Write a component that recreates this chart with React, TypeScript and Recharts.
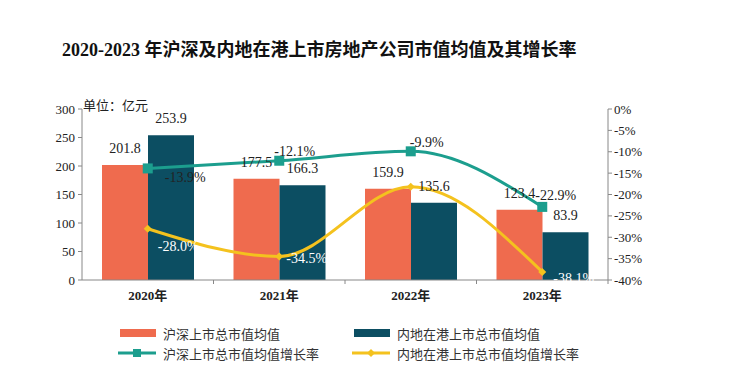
import React from 'react';
import { ComposedChart, Bar, Line, XAxis, YAxis, LabelList } from 'recharts';

const years = ['2020年', '2021年', '2022年', '2023年'];
const hsAvg = [201.8, 177.5, 159.9, 123.4];
const hkAvg = [253.9, 166.3, 135.6, 83.9];
const hsGrowth = [-13.9, -12.1, -9.9, -22.9];
const hkGrowth = [-28.0, -34.5, -18.2, -38.1];
const hkGrowthLabelled = [true, true, false, true];
const leftTicks = [0, 50, 100, 150, 200, 250, 300];
const rightTicks = [0, -5, -10, -15, -20, -25, -30, -35, -40];

const ORANGE = '#EF6B4E';
const NAVY = '#0C4E62';
const TEAL = '#1C9E8E';
const YELLOW = '#F4C21E';
const SERIF = "'Liberation Serif', 'Noto Sans CJK SC', serif";
const SANS = "'Noto Sans CJK SC', 'Noto Sans', sans-serif";

// label nudges for the two growth lines, per year
const hsLabelShift = [
    { dx: 17, dy: 9 },
    { dx: -5, dy: -9 },
    { dx: -1, dy: -9 },
    { dx: -7, dy: -11 },
];
const hkLabelShift = [
    { dx: 10, dy: 18 },
    { dx: 7, dy: 2 },
    { dx: 0, dy: 0 },
    { dx: 11, dy: 7 },
];

const data = years.map((year, i) => ({
    year,
    hsAvg: hsAvg[i],
    hkAvg: hkAvg[i],
    hsGrowth: hsGrowth[i],
    hkGrowth: hkGrowth[i],
}));

const pct = (v: number) => `${v.toFixed(1)}%`;

function GrowthLabel(props: any, shifts: { dx: number; dy: number }[], color: string, show?: boolean[]) {
    const { x, y, value, index } = props;
    if (show && !show[index]) return null;
    const s = shifts[index];
    return (
        <text
            x={x + s.dx}
            y={y + s.dy}
            fill={color}
            fontSize={14}
            fontFamily={SERIF}
            textAnchor="start"
            dominantBaseline="central"
        >
            {pct(value)}
        </text>
    );
}

function SquareDot(props: any) {
    const { cx, cy } = props;
    return <rect x={cx - 5} y={cy - 5} width={10} height={10} fill={TEAL} />;
}

function DiamondDot(props: any) {
    const { cx, cy } = props;
    return <path d={`M${cx},${cy - 4} L${cx + 4},${cy} L${cx},${cy + 4} L${cx - 4},${cy} Z`} fill={YELLOW} />;
}

// year label, plus a small tick mark at the right edge of the band
function YearTick(props: any) {
    const { x, y, payload } = props;
    const half = payload && payload.offset ? payload.offset : 66;
    const axisY = y - 11;
    return (
        <g>
            <line x1={x + half} y1={axisY} x2={x + half} y2={axisY + 4} stroke="#888" />
            <text
                x={x}
                y={y}
                dy="0.71em"
                textAnchor="middle"
                fill="#222"
                fontSize={13}
                fontFamily={SERIF}
                fontWeight="bold"
            >
                {payload.value}
            </text>
        </g>
    );
}

function LegendItem({ kind, color, text }: { kind: 'bar' | 'square' | 'diamond'; color: string; text: string }) {
    return (
        <div style={{ display: 'flex', alignItems: 'center', height: 20 }}>
            <svg width={40} height={12} style={{ marginRight: 5 }}>
                {kind === 'bar' ? (
                    <rect x={2} y={2} width={36} height={8} fill={color} />
                ) : (
                    <>
                        <line x1={0} y1={6} x2={38} y2={6} stroke={color} strokeWidth={3} />
                        {kind === 'square' ? (
                            <rect x={15} y={2} width={8} height={8} fill={color} />
                        ) : (
                            <path d="M19,2 L23,6 L19,10 L15,6 Z" fill={color} />
                        )}
                    </>
                )}
            </svg>
            <span style={{ fontFamily: SANS, fontSize: 13, color: '#333' }}>{text}</span>
        </div>
    );
}

export default function App() {
    return (
        <div style={{ position: 'absolute', left: 0, top: 0, width: 740, height: 384, background: '#fff' }}>
            <div
                style={{
                    position: 'absolute',
                    left: 62,
                    top: 35,
                    fontFamily: SERIF,
                    fontWeight: 'bold',
                    fontSize: 18,
                    color: '#111',
                    whiteSpace: 'nowrap',
                }}
            >
                2020-2023 年沪深及内地在港上市房地产公司市值均值及其增长率
            </div>
            <div style={{ position: 'absolute', left: 83, top: 95, fontFamily: SERIF, fontSize: 13, color: '#222' }}>
                单位：亿元
            </div>
            <ComposedChart
                width={740}
                height={384}
                data={data}
                margin={{ top: 109, right: 82, bottom: 74, left: 42 }}
                barCategoryGap={20}
                barGap={0}
                style={{ position: 'absolute', left: 0, top: 0 }}
            >
                <XAxis
                    dataKey="year"
                    tickLine={false}
                    tickSize={0}
                    tickMargin={11}
                    height={30}
                    axisLine={{ stroke: '#888' }}
                    tick={<YearTick />}
                />
                <YAxis
                    yAxisId="left"
                    domain={[0, 300]}
                    ticks={leftTicks}
                    width={40}
                    tickSize={4}
                    tickMargin={3}
                    stroke="#888"
                    tick={{ fill: '#222', fontSize: 13, fontFamily: SERIF }}
                />
                <YAxis
                    yAxisId="right"
                    orientation="right"
                    domain={[-40, 0]}
                    ticks={rightTicks}
                    width={50}
                    tickSize={4}
                    tickMargin={2}
                    stroke="#888"
                    tickFormatter={(v: number) => `${v}%`}
                    tick={{ fill: '#222', fontSize: 13, fontFamily: SERIF }}
                />
                <Bar yAxisId="left" dataKey="hsAvg" fill={ORANGE} barSize={46} isAnimationActive={false}>
                    <LabelList dataKey="hsAvg" position="top" offset={12} fill="#222" fontSize={14} fontFamily={SERIF} />
                </Bar>
                <Bar yAxisId="left" dataKey="hkAvg" fill={NAVY} barSize={46} isAnimationActive={false}>
                    <LabelList dataKey="hkAvg" position="top" offset={12} fill="#222" fontSize={14} fontFamily={SERIF} />
                </Bar>
                <Line
                    yAxisId="right"
                    type="monotone"
                    dataKey="hsGrowth"
                    stroke={TEAL}
                    strokeWidth={3}
                    dot={<SquareDot />}
                    activeDot={false}
                    isAnimationActive={false}
                >
                    <LabelList dataKey="hsGrowth" content={(p: any) => GrowthLabel(p, hsLabelShift, '#222')} />
                </Line>
                <Line
                    yAxisId="right"
                    type="monotone"
                    dataKey="hkGrowth"
                    stroke={YELLOW}
                    strokeWidth={3}
                    dot={<DiamondDot />}
                    activeDot={false}
                    isAnimationActive={false}
                >
                    <LabelList
                        dataKey="hkGrowth"
                        content={(p: any) => GrowthLabel(p, hkLabelShift, '#fff', hkGrowthLabelled)}
                    />
                </Line>
            </ComposedChart>
            <div style={{ position: 'absolute', left: 118, top: 323 }}>
                <LegendItem kind="bar" color={ORANGE} text="沪深上市总市值均值" />
                <LegendItem kind="square" color={TEAL} text="沪深上市总市值均值增长率" />
            </div>
            <div style={{ position: 'absolute', left: 352, top: 323 }}>
                <LegendItem kind="bar" color={NAVY} text="内地在港上市总市值均值" />
                <LegendItem kind="diamond" color={YELLOW} text="内地在港上市总市值均值增长率" />
            </div>
        </div>
    );
}
